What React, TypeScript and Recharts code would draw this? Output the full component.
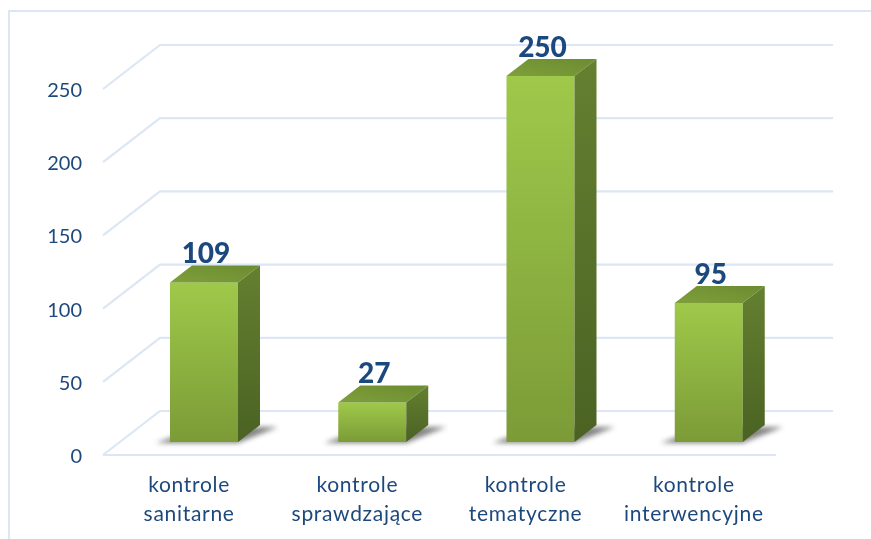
import { BarChart, Bar, XAxis, YAxis, CartesianGrid, LabelList } from "recharts"

const categories = ["kontrole sanitarne", "kontrole sprawdzające", "kontrole tematyczne", "kontrole interwencyjne"]
const values = [109, 27, 250, 95]
const yTicks = [0, 50, 100, 150, 200, 250]

const data = categories.map((name, i) => ({ name, value: values[i] }))

const textColor = "#1f497d"
const gridColor = "#dce6f5"
const font = "Lato, 'Open Sans', sans-serif"

// 3d offsets, the plot area is the back wall
const floorDx = 57
const floorDy = 44
const barDx = 40
const barDy = 31
const depthX = 22
const depthY = 17

function GridLine(props: any) {
  const { x1, x2, y1, y2 } = props
  const isFloor = Math.abs(y1 - 411) < 2
  return (
    <g fill="none" stroke={gridColor} strokeWidth={2.2} filter="url(#soft)">
      <path d={`M${x1 - floorDx},${y1 + floorDy}L${x1},${y1}L${x2},${y2}`} />
      {isFloor && <path d={`M${x1 - floorDx},${y1 + floorDy}H${x2 - floorDx}`} />}
    </g>
  )
}

function Bar3D(props: any) {
  const { x, y, width, height } = props
  const fx = x - barDx
  const fy = y + barDy
  const w = width
  const h = height
  return (
    <g>
      <path
        d={`M${fx - 14},${fy + h + 1}H${fx + w}L${fx + w + depthX + 18},${fy + h - 15}H${fx + w}L${fx + 8},${fy + h - 7}Z`}
        fill="#333"
        opacity={0.6}
        filter="url(#barShadow)"
      />
      <rect x={fx} y={fy} width={w} height={h} fill="url(#barFront)" />
      <path
        d={`M${fx},${fy}L${fx + depthX},${fy - depthY}H${fx + w + depthX}L${fx + w},${fy}Z`}
        fill="url(#barTop)"
      />
      <path
        d={`M${fx + w},${fy}L${fx + w + depthX},${fy - depthY}V${fy + h - depthY}L${fx + w},${fy + h}Z`}
        fill="url(#barSide)"
      />
    </g>
  )
}

function YTick(props: any) {
  const { y, payload } = props
  return (
    <text x={82} y={y + floorDy} dy={8} textAnchor="end" fontFamily={font} fontSize={20} fill={textColor} filter="url(#softText)">
      {payload.value}
    </text>
  )
}

function XTick(props: any) {
  const { x, payload } = props
  const [first, second] = String(payload.value).split(" ")
  return (
    <text textAnchor="middle" fontFamily={font} fontSize={21} fill={textColor} letterSpacing={0.7} filter="url(#softText)">
      <tspan x={x - 55} y={492}>{first}</tspan>
      <tspan x={x - 55} y={521}>{second}</tspan>
    </text>
  )
}

function ValueLabel(props: any) {
  const { x, y, width, value } = props
  return (
    <text
      x={x + width / 2 - barDx + 2}
      y={y + barDy - 19}
      textAnchor="middle"
      fontFamily={font}
      fontWeight={900}
      fontSize={28}
      fill={textColor}
      filter="url(#softText)"
    >
      {value}
    </text>
  )
}

export default function App() {
  return (
    <div style={{ position: "absolute", left: 0, top: 0, width: 871, height: 539, overflow: "hidden", background: "#fff" }}>
      <div
        style={{
          position: "absolute",
          left: 8,
          top: 10,
          width: 900,
          height: 600,
          border: `2px solid ${gridColor}`,
        }}
      />
      <BarChart
        width={871}
        height={539}
        data={data}
        margin={{ top: 45, right: 38, bottom: 0, left: 105 }}
        barCategoryGap={50}
        style={{ position: "absolute", left: 0, top: 0 }}
      >
        <defs>
          <linearGradient id="barFront" x1="0" y1="0" x2="0" y2="1">
            <stop offset="0%" stopColor="#9fc94a" />
            <stop offset="100%" stopColor="#7b9b37" />
          </linearGradient>
          <linearGradient id="barTop" x1="0" y1="1" x2="1" y2="0">
            <stop offset="0%" stopColor="#7f9f3b" />
            <stop offset="100%" stopColor="#6b8c30" />
          </linearGradient>
          <linearGradient id="barSide" x1="0" y1="0" x2="0" y2="1">
            <stop offset="0%" stopColor="#648030" />
            <stop offset="100%" stopColor="#4b6223" />
          </linearGradient>
          <filter id="barShadow" x="-30%" y="-50%" width="160%" height="200%">
            <feGaussianBlur stdDeviation="2.5" />
          </filter>
          <filter id="soft" filterUnits="userSpaceOnUse" x="0" y="0" width="871" height="539">
            <feGaussianBlur stdDeviation="0.5" />
          </filter>
          <filter id="softText" x="-10%" y="-10%" width="120%" height="120%">
            <feGaussianBlur stdDeviation="0.35" />
          </filter>
        </defs>
        <CartesianGrid vertical={false} horizontal={<GridLine />} />
        <XAxis dataKey="name" axisLine={false} tickLine={false} interval={0} tick={<XTick />} height={128} />
        <YAxis width={55} domain={[0, 250]} ticks={yTicks} axisLine={false} tickLine={false} tick={<YTick />} />
        <Bar dataKey="value" isAnimationActive={false} shape={<Bar3D />}>
          <LabelList dataKey="value" content={<ValueLabel />} />
        </Bar>
      </BarChart>
    </div>
  )
}
